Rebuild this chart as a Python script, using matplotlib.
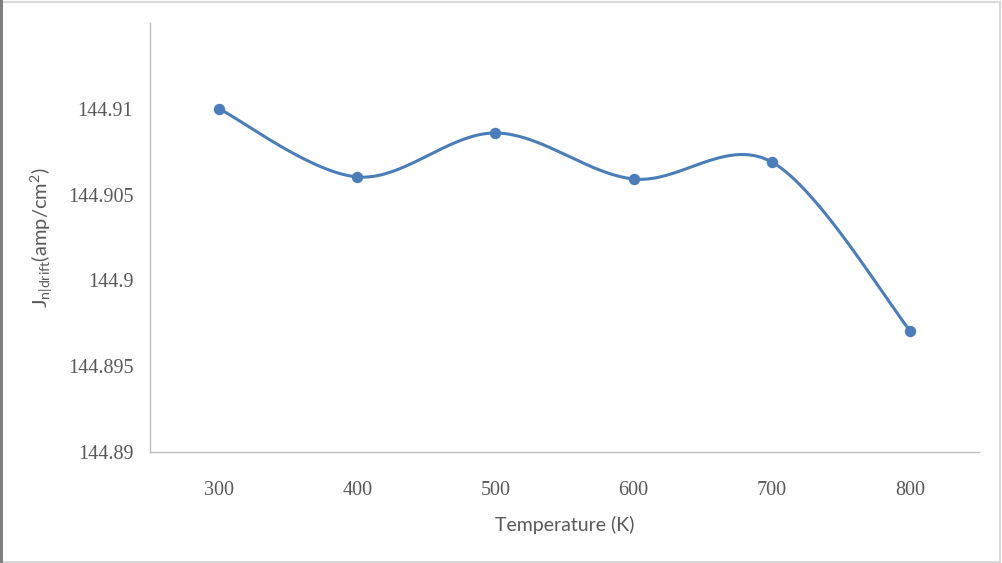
import numpy as np
import matplotlib
matplotlib.use("Agg")
import matplotlib.pyplot as plt
from matplotlib.patches import Rectangle

temperature = [300, 400, 500, 600, 700, 800]
current_density = [144.91000, 144.90603, 144.90859, 144.90591, 144.90690, 144.89708]
y_ticks = [144.89, 144.895, 144.9, 144.905, 144.91]
y_tick_labels = ['144.89', '144.895', '144.9', '144.905', '144.91']

LINE_COLOR = '#4a7ebb'
AXIS_COLOR = '#bfbfbf'
TEXT_COLOR = '#595959'


def excel_smooth(x, y, n=40):
    """Bezier smoothing like Excel's 'smoothed line' (Catmull-Rom style)."""
    x = np.asarray(x, float)
    y = np.asarray(y, float)
    xs, ys = [], []
    for i in range(len(x) - 1):
        i0 = max(i - 1, 0)
        i3 = min(i + 2, len(x) - 1)
        p0 = np.array([x[i], y[i]])
        p3 = np.array([x[i + 1], y[i + 1]])
        c1 = p0 + (p3 - np.array([x[i0], y[i0]])) / 6
        c2 = p3 - (np.array([x[i3], y[i3]]) - p0) / 6
        t = np.linspace(0, 1, n)[:, None]
        pts = ((1 - t) ** 3 * p0 + 3 * (1 - t) ** 2 * t * c1
               + 3 * (1 - t) * t ** 2 * c2 + t ** 3 * p3)
        xs.append(pts[:, 0])
        ys.append(pts[:, 1])
    return np.concatenate(xs), np.concatenate(ys)


plt.rcParams['mathtext.default'] = 'regular'

fig = plt.figure(figsize=(10.03, 5.63), dpi=100)
ax = fig.add_axes([150 / 1003, 111 / 563, 829 / 1003, 429 / 563])

sx, sy = excel_smooth(temperature, current_density)
ax.plot(sx, sy, color=LINE_COLOR, lw=2.2, solid_capstyle='round', zorder=3)
ax.plot(temperature, current_density, 'o', color=LINE_COLOR, ms=7.2, zorder=4)

ax.set_xlim(250, 850)
ax.set_ylim(144.89, 144.915)
ax.set_xticks(temperature)
ax.set_xticklabels([str(t) for t in temperature], family='Liberation Serif',
                   fontsize=14.5, color=TEXT_COLOR)
ax.set_yticks(y_ticks)
ax.set_yticklabels(y_tick_labels, family='Liberation Serif',
                   fontsize=14.5, color=TEXT_COLOR)
ax.tick_params(axis='y', length=0, pad=12)
ax.tick_params(axis='x', length=0, pad=21)

for side in ['top', 'right']:
    ax.spines[side].set_visible(False)
for side in ['left', 'bottom']:
    ax.spines[side].set_color(AXIS_COLOR)
    ax.spines[side].set_linewidth(1.0)

ax.set_xlabel('Temperature (K)', family='Lato', fontsize=14,
              color=TEXT_COLOR, va='center')
ax.xaxis.set_label_coords(0.5, -(525 - 452) / 429)
ax.set_ylabel(r'J$_{n|drift}$(amp/cm$^{2}$)', family='Lato', fontsize=14.5,
              color=TEXT_COLOR, va='center')
ax.yaxis.set_label_coords((42 - 150) / 829, 0.5)

# light frame round the chart area, like the exported Excel chart
fig.patches.append(Rectangle((0.002, 0.002), 0.995, 0.995, transform=fig.transFigure,
                             fill=False, edgecolor='#d9d9d9', lw=1.5))
fig.patches.append(Rectangle((0.0, 0.0), 0.003, 1.0, transform=fig.transFigure,
                             facecolor='#7f7f7f', edgecolor='none'))

fig.savefig('out.png', dpi=100)
